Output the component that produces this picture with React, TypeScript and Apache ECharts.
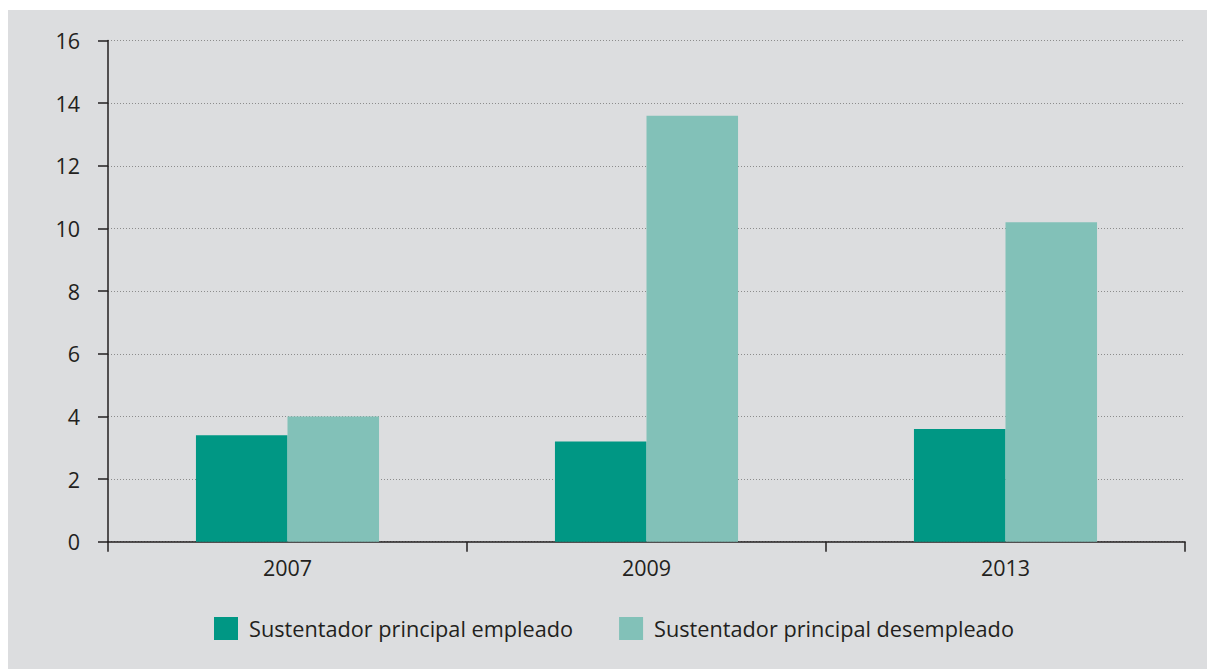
import React, { useEffect, useRef } from "react";
import * as echarts from "echarts";

const years = ["2007", "2009", "2013"];
const empleado = [3.4, 3.2, 3.6];
const desempleado = [4.0, 13.6, 10.2];
const seriesNames = ["Sustentador principal empleado", "Sustentador principal desempleado"];

const FONT = "'Open Sans', 'Noto Sans', sans-serif";
const TEXT = "#231f20";

export default function App() {
  const ref = useRef<HTMLDivElement>(null);

  useEffect(() => {
    if (!ref.current) return;
    const chart = echarts.init(ref.current, undefined, { renderer: "svg" });
    chart.setOption({
      animation: false,
      backgroundColor: "#dcdddf",
      textStyle: { fontFamily: FONT, color: TEXT },
      grid: { left: 100, right: 22, top: 30.5, bottom: 127.3, containLabel: false },
      legend: {
        left: 201,
        top: 602,
        itemWidth: 24,
        itemHeight: 23,
        itemGap: 46,
        icon: "rect",
        textStyle: { fontFamily: FONT, fontSize: 21.7, color: TEXT, padding: [0, 0, 0, 6] },
        data: seriesNames,
      },
      xAxis: {
        type: "category",
        data: years,
        axisLine: { lineStyle: { color: TEXT, width: 1.5 } },
        axisTick: { show: true, length: 10, alignWithLabel: false, lineStyle: { color: TEXT, width: 1.5 } },
        axisLabel: { fontFamily: FONT, fontSize: 21.5, color: TEXT, margin: 15 },
      },
      yAxis: {
        type: "value",
        min: 0,
        max: 16,
        interval: 2,
        axisLine: { show: true, lineStyle: { color: TEXT, width: 1.5 } },
        axisTick: { show: true, length: 10, lineStyle: { color: TEXT, width: 1.5 } },
        axisLabel: { fontFamily: FONT, fontSize: 21.5, color: TEXT, margin: 28 },
        splitLine: { show: true, lineStyle: { color: "#8c8c8c", type: [1, 2], width: 1 } },
      },
      series: [
        {
          name: seriesNames[0],
          type: "bar",
          data: empleado,
          itemStyle: { color: "#009784" },
          barGap: "0%",
          barCategoryGap: "49%",
        },
        {
          name: seriesNames[1],
          type: "bar",
          data: desempleado,
          itemStyle: { color: "#82c1b8" },
          barGap: "0%",
          barCategoryGap: "49%",
        },
      ],
    });
    return () => chart.dispose();
  }, []);

  return (
    <div
      ref={ref}
      style={{ position: "fixed", left: 8, top: 10, width: 1199, height: 659 }}
    />
  );
}
